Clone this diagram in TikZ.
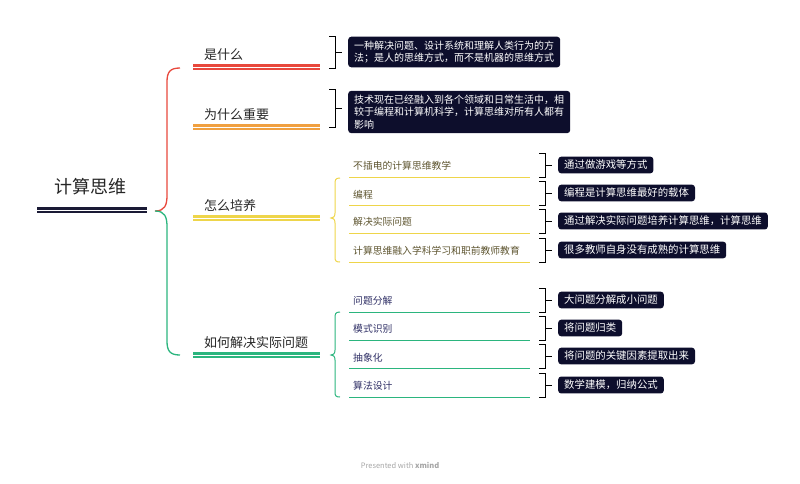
\documentclass[tikz,border=0pt]{standalone}
\usepackage{fontspec}
\setmainfont{Noto Sans CJK SC}
\begin{document}
\begin{tikzpicture}[x=1pt,y=-1pt,
 dbl/.style={line width=2.6pt,double=white,double distance=1pt},
 lbl/.style={anchor=south west,inner sep=1pt,font=\fontsize{13}{15}\selectfont,text=black!85},
 sub/.style={anchor=south west,inner sep=1pt,font=\fontsize{9.8}{11}\selectfont},
 dbox/.style={anchor=west,fill=boxc,rounded corners=3pt,text=white,inner xsep=6pt,inner ysep=4pt,font=\fontsize{10}{12.5}\selectfont,align=left},
 brk/.style={draw=black,line width=1pt},
]
\definecolor{boxc}{HTML}{0D0E2C}
\definecolor{cred}{HTML}{E8483C}
\definecolor{corg}{HTML}{F0A040}
\definecolor{cyel}{HTML}{EED54A}
\definecolor{cgrn}{HTML}{2BB57E}
\definecolor{croot}{HTML}{1A1A35}
\definecolor{tol}{HTML}{5E5530}
\definecolor{tnv}{HTML}{303066}
\useasboundingbox (0,0) rectangle (800,483);
% root
\node[font=\fontsize{18}{20}\selectfont,text=black!85] (root) at (90,187) {计算思维};
\coordinate (r0) at (37,210); \coordinate (r1) at (147,210);
\draw[dbl,draw=croot] (r0) -- (r1);
% main branches
\coordinate (j) at (155,211);
\draw[cred,line width=1.3pt] (j) .. controls (165,211) and (167,205) .. (167,195) -- (167,82) .. controls (167,72) and (170,68) .. (180,68);
\draw[cgrn,line width=1.3pt] (j) .. controls (165,211) and (167,217) .. (167,227) -- (167,341) .. controls (167,351) and (170,355) .. (180,355);
\foreach \y/\c/\t/\n in {67/cred/是什么/a,127/corg/为什么重要/b,218/cyel/怎么培养/c,355/cgrn/如何解决实际问题/d}{
  \coordinate (\n0) at (193,\y); \coordinate (\n1) at (320,\y);
  \draw[dbl,draw=\c] (\n0) -- (\n1);
  \node[lbl] (\n t) at (203,\y-5) {\t};
}
% top brackets and boxes
\draw[brk] (329,36) -- (335,36) -- (335,68) -- (329,68) (335,52) -- (342,52);
\node[dbox] (bx1) at (348,52) {一种解决问题、设计系统和理解人类行为的方\\法；是人的思维方式，而不是机器的思维方式};
\draw[brk] (329,89) -- (335,89) -- (335,127) -- (329,127) (335,108) -- (342,108);
\node[dbox] (bx2) at (348,112) {技术现在已经融入到各个领域和日常生活中，相\\较于编程和计算机科学，计算思维对所有人都有\\影响};
% sub braces
\draw[cyel,line width=1pt] (340,178) .. controls (335,178) and (335,180) .. (335,185) -- (335,213) .. controls (335,217) and (333,218) .. (331,218) .. controls (333,218) and (335,219) .. (335,223) -- (335,257) .. controls (335,261) and (336,262) .. (340,262);
\draw[cgrn,line width=1pt] (340,312) .. controls (335,312) and (335,314) .. (335,319) -- (335,350) .. controls (335,354) and (333,355) .. (331,355) .. controls (333,355) and (335,356) .. (335,360) -- (335,392) .. controls (335,396) and (336,397) .. (340,397);
\foreach \y/\c/\tc/\t/\bt/\n in {
 177/cyel/tol/不插电的计算思维教学/通过做游戏等方式/s1,
 205/cyel/tol/编程/编程是计算思维最好的载体/s2,
 233/cyel/tol/解决实际问题/通过解决实际问题培养计算思维，计算思维/s3,
 262/cyel/tol/计算思维融入学科学习和职前教师教育/很多教师自身没有成熟的计算思维/s4,
 312/cgrn/tnv/问题分解/大问题分解成小问题/g1,
 340/cgrn/tnv/模式识别/将问题归类/g2,
 368/cgrn/tnv/抽象化/将问题的关键因素提取出来/g3,
 397/cgrn/tnv/算法设计/数学建模，归纳公式/g4}{
  \coordinate (\n0) at (349,\y); \coordinate (\n1) at (530,\y);
  \draw[\c,line width=1pt] (\n0) -- (\n1);
  \node[sub,text=\tc] (\n t) at (352,\y-5) {\t};
  \draw[brk] (539,\y-24) -- (545,\y-24) -- (545,\y) -- (539,\y) (545,\y-12) -- (552,\y-12);
  \node[dbox,inner ysep=3.5pt,font=\fontsize{10.4}{12}\selectfont] (\n b) at (558,\y-12) {\bt};
}
\node[font=\fontsize{7.5}{8}\selectfont,text=black!35] (foot) at (400,465) {Presented with \textbf{xmind}};
\end{tikzpicture}
\end{document}
